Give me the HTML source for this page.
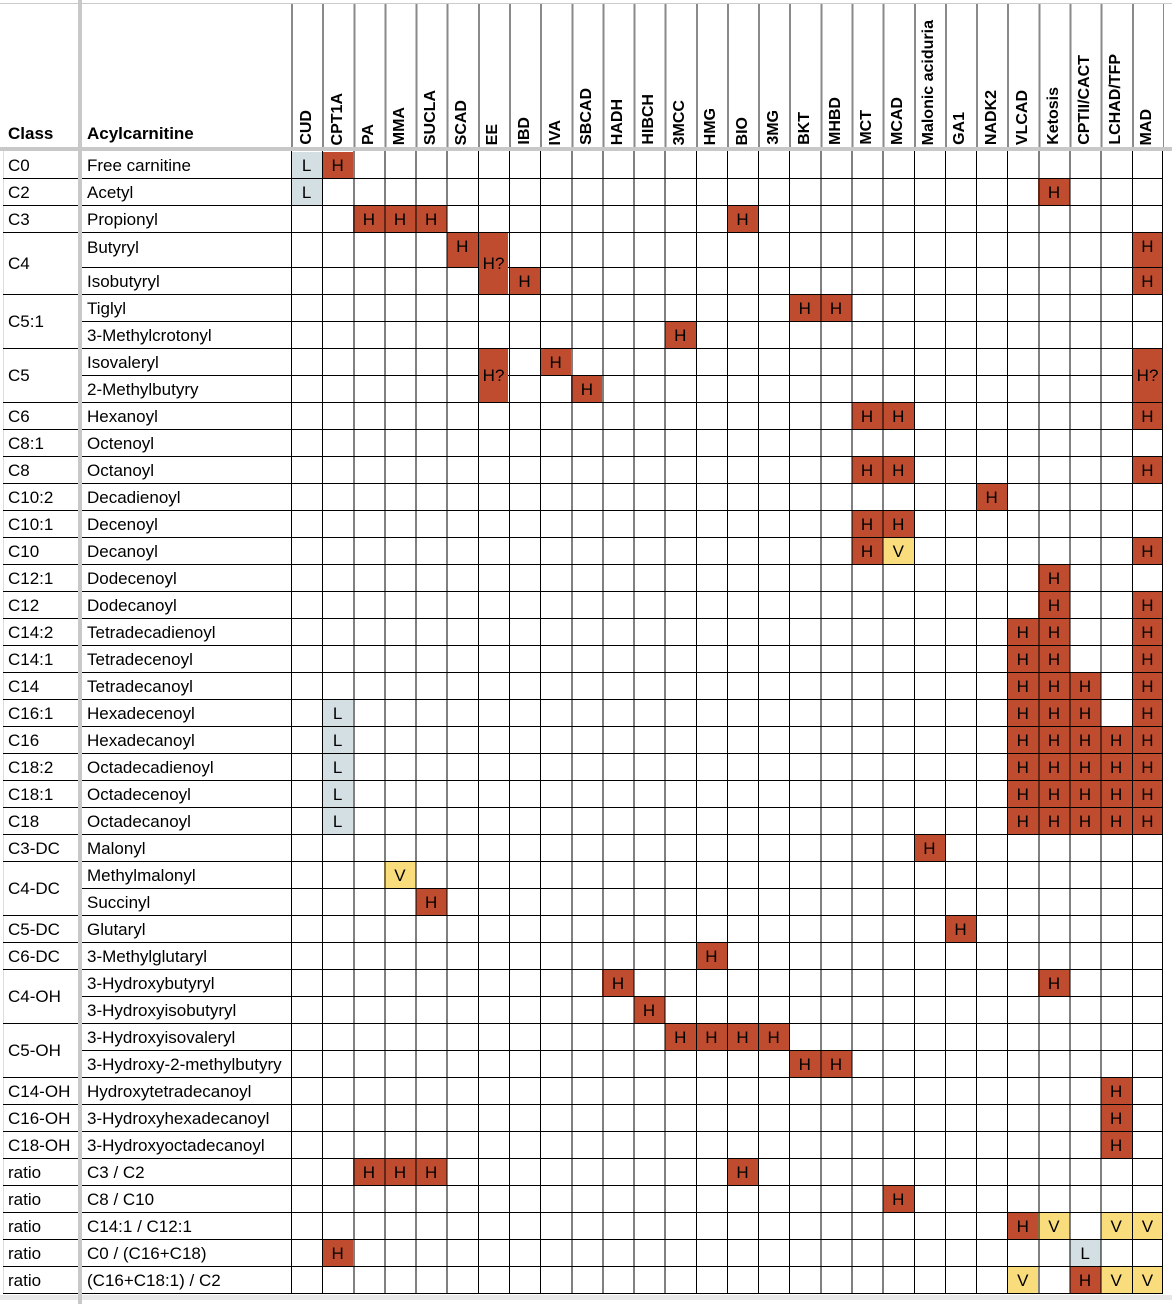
<!DOCTYPE html>
<html><head><meta charset="utf-8"><style>
body{margin:0;width:1172px;height:1304px;background:#fff;position:relative;overflow:hidden;font-family:"Liberation Sans",Arial,sans-serif;font-size:17px;color:#000}
div{box-sizing:border-box}
.a{position:absolute}
.r{position:absolute;left:82px;width:1081px;height:27px;border-bottom:1px solid #000;padding-left:5px;line-height:28px;z-index:2;white-space:nowrap}
.k{position:absolute;left:3px;width:75px;border-bottom:1px solid #000;padding-left:5px;display:flex;align-items:center;padding-top:1px;z-index:2}
.c{position:absolute;width:31.14px;height:27px;text-align:center;line-height:27px;z-index:1}
.h{background:#c04c30}.l{background:#d4dfe3}.v{background:#f9dc7c}
.m{z-index:4;width:29.5px;margin-left:1px;height:53px;line-height:53px}
.hd{position:absolute;top:4px;width:31.14px;height:141px;display:flex;align-items:flex-end;justify-content:center}
.hd span{writing-mode:vertical-rl;transform:rotate(180deg);font-weight:bold;font-size:16px;white-space:nowrap}
</style></head><body>
<div class="a" style="left:0;top:3px;width:1172px;height:1px;background:#ccc"></div>
<div class="a" style="left:8px;top:124px;font-weight:bold">Class</div>
<div class="a" style="left:87px;top:124px;font-weight:bold">Acylcarnitine</div>
<div class="a" style="left:291px;top:4px;width:873px;height:143px;background:repeating-linear-gradient(to right,#8a8a8a 0 2px,transparent 2px 31.14px)"></div>
<div class="hd" style="left:291px"><span>CUD</span></div>
<div class="hd" style="left:322.1px"><span>CPT1A</span></div>
<div class="hd" style="left:353.3px"><span>PA</span></div>
<div class="hd" style="left:384.4px"><span>MMA</span></div>
<div class="hd" style="left:415.6px"><span>SUCLA</span></div>
<div class="hd" style="left:446.7px"><span>SCAD</span></div>
<div class="hd" style="left:477.8px"><span>EE</span></div>
<div class="hd" style="left:509px"><span>IBD</span></div>
<div class="hd" style="left:540.1px"><span>IVA</span></div>
<div class="hd" style="left:571.3px"><span>SBCAD</span></div>
<div class="hd" style="left:602.4px"><span>HADH</span></div>
<div class="hd" style="left:633.5px"><span>HIBCH</span></div>
<div class="hd" style="left:664.7px"><span>3MCC</span></div>
<div class="hd" style="left:695.8px"><span>HMG</span></div>
<div class="hd" style="left:727px"><span>BIO</span></div>
<div class="hd" style="left:758.1px"><span>3MG</span></div>
<div class="hd" style="left:789.2px"><span>BKT</span></div>
<div class="hd" style="left:820.4px"><span>MHBD</span></div>
<div class="hd" style="left:851.5px"><span>MCT</span></div>
<div class="hd" style="left:882.7px"><span>MCAD</span></div>
<div class="hd" style="left:913.8px"><span>Malonic aciduria</span></div>
<div class="hd" style="left:944.9px"><span>GA1</span></div>
<div class="hd" style="left:976.1px"><span>NADK2</span></div>
<div class="hd" style="left:1007.2px"><span>VLCAD</span></div>
<div class="hd" style="left:1038.4px"><span>Ketosis</span></div>
<div class="hd" style="left:1069.5px"><span>CPTII/CACT</span></div>
<div class="hd" style="left:1100.6px"><span>LCHAD/TFP</span></div>
<div class="hd" style="left:1131.8px"><span>MAD</span></div>
<div class="a" style="left:0;top:147px;width:1172px;height:4px;background:#c8c8c8;z-index:5"></div>
<div class="a" style="left:78px;top:0;width:4px;height:1304px;background:#c8c8c8;z-index:5"></div>
<div class="a" style="left:3px;top:151px;width:1px;height:1143px;background:#ddd"></div>
<div class="a" style="left:0;top:1295px;width:1172px;height:5px;background:#e8e8e8"></div>
<div class="a" style="left:291px;top:151px;width:872px;height:1143px;background:repeating-linear-gradient(to right,#000 0 1px,transparent 1px 31.14px);z-index:3"></div>
<div class="a" style="left:1162px;top:151px;width:1px;height:1143px;background:#000;z-index:3"></div>

<div class="k" style="top:152px;height:27px">C0</div>
<div class="k" style="top:179px;height:27px">C2</div>
<div class="k" style="top:206px;height:27px">C3</div>
<div class="k" style="top:233px;height:62px">C4</div>
<div class="k" style="top:295px;height:54px">C5:1</div>
<div class="k" style="top:349px;height:54px">C5</div>
<div class="k" style="top:403px;height:27px">C6</div>
<div class="k" style="top:430px;height:27px">C8:1</div>
<div class="k" style="top:457px;height:27px">C8</div>
<div class="k" style="top:484px;height:27px">C10:2</div>
<div class="k" style="top:511px;height:27px">C10:1</div>
<div class="k" style="top:538px;height:27px">C10</div>
<div class="k" style="top:565px;height:27px">C12:1</div>
<div class="k" style="top:592px;height:27px">C12</div>
<div class="k" style="top:619px;height:27px">C14:2</div>
<div class="k" style="top:646px;height:27px">C14:1</div>
<div class="k" style="top:673px;height:27px">C14</div>
<div class="k" style="top:700px;height:27px">C16:1</div>
<div class="k" style="top:727px;height:27px">C16</div>
<div class="k" style="top:754px;height:27px">C18:2</div>
<div class="k" style="top:781px;height:27px">C18:1</div>
<div class="k" style="top:808px;height:27px">C18</div>
<div class="k" style="top:835px;height:27px">C3-DC</div>
<div class="k" style="top:862px;height:54px">C4-DC</div>
<div class="k" style="top:916px;height:27px">C5-DC</div>
<div class="k" style="top:943px;height:27px">C6-DC</div>
<div class="k" style="top:970px;height:54px">C4-OH</div>
<div class="k" style="top:1024px;height:54px">C5-OH</div>
<div class="k" style="top:1078px;height:27px">C14-OH</div>
<div class="k" style="top:1105px;height:27px">C16-OH</div>
<div class="k" style="top:1132px;height:27px">C18-OH</div>
<div class="k" style="top:1159px;height:27px">ratio</div>
<div class="k" style="top:1186px;height:27px">ratio</div>
<div class="k" style="top:1213px;height:27px">ratio</div>
<div class="k" style="top:1240px;height:27px">ratio</div>
<div class="k" style="top:1267px;height:27px">ratio</div>

<div class="r" style="top:152px">Free carnitine</div>
<div class="r" style="top:179px">Acetyl</div>
<div class="r" style="top:206px">Propionyl</div>
<div class="r" style="top:233px;height:35px;line-height:29px">Butyryl</div>
<div class="r" style="top:268px">Isobutyryl</div>
<div class="r" style="top:295px">Tiglyl</div>
<div class="r" style="top:322px">3-Methylcrotonyl</div>
<div class="r" style="top:349px">Isovaleryl</div>
<div class="r" style="top:376px">2-Methylbutyry</div>
<div class="r" style="top:403px">Hexanoyl</div>
<div class="r" style="top:430px">Octenoyl</div>
<div class="r" style="top:457px">Octanoyl</div>
<div class="r" style="top:484px">Decadienoyl</div>
<div class="r" style="top:511px">Decenoyl</div>
<div class="r" style="top:538px">Decanoyl</div>
<div class="r" style="top:565px">Dodecenoyl</div>
<div class="r" style="top:592px">Dodecanoyl</div>
<div class="r" style="top:619px">Tetradecadienoyl</div>
<div class="r" style="top:646px">Tetradecenoyl</div>
<div class="r" style="top:673px">Tetradecanoyl</div>
<div class="r" style="top:700px">Hexadecenoyl</div>
<div class="r" style="top:727px">Hexadecanoyl</div>
<div class="r" style="top:754px">Octadecadienoyl</div>
<div class="r" style="top:781px">Octadecenoyl</div>
<div class="r" style="top:808px">Octadecanoyl</div>
<div class="r" style="top:835px">Malonyl</div>
<div class="r" style="top:862px">Methylmalonyl</div>
<div class="r" style="top:889px">Succinyl</div>
<div class="r" style="top:916px">Glutaryl</div>
<div class="r" style="top:943px">3-Methylglutaryl</div>
<div class="r" style="top:970px">3-Hydroxybutyryl</div>
<div class="r" style="top:997px">3-Hydroxyisobutyryl</div>
<div class="r" style="top:1024px">3-Hydroxyisovaleryl</div>
<div class="r" style="top:1051px">3-Hydroxy-2-methylbutyry</div>
<div class="r" style="top:1078px">Hydroxytetradecanoyl</div>
<div class="r" style="top:1105px">3-Hydroxyhexadecanoyl</div>
<div class="r" style="top:1132px">3-Hydroxyoctadecanoyl</div>
<div class="r" style="top:1159px">C3 / C2</div>
<div class="r" style="top:1186px">C8 / C10</div>
<div class="r" style="top:1213px">C14:1 / C12:1</div>
<div class="r" style="top:1240px">C0 / (C16+C18)</div>
<div class="r" style="top:1267px">(C16+C18:1) / C2</div>

<div class="c l" style="left:291px;top:152px">L</div>
<div class="c h" style="left:322.1px;top:152px">H</div>
<div class="c l" style="left:291px;top:179px">L</div>
<div class="c h" style="left:1038.4px;top:179px">H</div>
<div class="c h" style="left:353.3px;top:206px">H</div>
<div class="c h" style="left:384.4px;top:206px">H</div>
<div class="c h" style="left:415.6px;top:206px">H</div>
<div class="c h" style="left:727px;top:206px">H</div>
<div class="c h" style="left:446.7px;top:233px;height:35px">H</div>
<div class="c h m" style="left:477.8px;top:233px;height:61px;line-height:61px">H?</div>
<div class="c h" style="left:1131.8px;top:233px;height:35px">H</div>
<div class="c h" style="left:509px;top:268px">H</div>
<div class="c h" style="left:1131.8px;top:268px">H</div>
<div class="c h" style="left:789.2px;top:295px">H</div>
<div class="c h" style="left:820.4px;top:295px">H</div>
<div class="c h" style="left:664.7px;top:322px">H</div>
<div class="c h m" style="left:477.8px;top:349px">H?</div>
<div class="c h" style="left:540.1px;top:349px">H</div>
<div class="c h m" style="left:1131.8px;top:349px">H?</div>
<div class="c h" style="left:571.3px;top:376px">H</div>
<div class="c h" style="left:851.5px;top:403px">H</div>
<div class="c h" style="left:882.7px;top:403px">H</div>
<div class="c h" style="left:1131.8px;top:403px">H</div>
<div class="c h" style="left:851.5px;top:457px">H</div>
<div class="c h" style="left:882.7px;top:457px">H</div>
<div class="c h" style="left:1131.8px;top:457px">H</div>
<div class="c h" style="left:976.1px;top:484px">H</div>
<div class="c h" style="left:851.5px;top:511px">H</div>
<div class="c h" style="left:882.7px;top:511px">H</div>
<div class="c h" style="left:851.5px;top:538px">H</div>
<div class="c v" style="left:882.7px;top:538px">V</div>
<div class="c h" style="left:1131.8px;top:538px">H</div>
<div class="c h" style="left:1038.4px;top:565px">H</div>
<div class="c h" style="left:1038.4px;top:592px">H</div>
<div class="c h" style="left:1131.8px;top:592px">H</div>
<div class="c h" style="left:1007.2px;top:619px">H</div>
<div class="c h" style="left:1038.4px;top:619px">H</div>
<div class="c h" style="left:1131.8px;top:619px">H</div>
<div class="c h" style="left:1007.2px;top:646px">H</div>
<div class="c h" style="left:1038.4px;top:646px">H</div>
<div class="c h" style="left:1131.8px;top:646px">H</div>
<div class="c h" style="left:1007.2px;top:673px">H</div>
<div class="c h" style="left:1038.4px;top:673px">H</div>
<div class="c h" style="left:1069.5px;top:673px">H</div>
<div class="c h" style="left:1131.8px;top:673px">H</div>
<div class="c l" style="left:322.1px;top:700px">L</div>
<div class="c h" style="left:1007.2px;top:700px">H</div>
<div class="c h" style="left:1038.4px;top:700px">H</div>
<div class="c h" style="left:1069.5px;top:700px">H</div>
<div class="c h" style="left:1131.8px;top:700px">H</div>
<div class="c l" style="left:322.1px;top:727px">L</div>
<div class="c h" style="left:1007.2px;top:727px">H</div>
<div class="c h" style="left:1038.4px;top:727px">H</div>
<div class="c h" style="left:1069.5px;top:727px">H</div>
<div class="c h" style="left:1100.6px;top:727px">H</div>
<div class="c h" style="left:1131.8px;top:727px">H</div>
<div class="c l" style="left:322.1px;top:754px">L</div>
<div class="c h" style="left:1007.2px;top:754px">H</div>
<div class="c h" style="left:1038.4px;top:754px">H</div>
<div class="c h" style="left:1069.5px;top:754px">H</div>
<div class="c h" style="left:1100.6px;top:754px">H</div>
<div class="c h" style="left:1131.8px;top:754px">H</div>
<div class="c l" style="left:322.1px;top:781px">L</div>
<div class="c h" style="left:1007.2px;top:781px">H</div>
<div class="c h" style="left:1038.4px;top:781px">H</div>
<div class="c h" style="left:1069.5px;top:781px">H</div>
<div class="c h" style="left:1100.6px;top:781px">H</div>
<div class="c h" style="left:1131.8px;top:781px">H</div>
<div class="c l" style="left:322.1px;top:808px">L</div>
<div class="c h" style="left:1007.2px;top:808px">H</div>
<div class="c h" style="left:1038.4px;top:808px">H</div>
<div class="c h" style="left:1069.5px;top:808px">H</div>
<div class="c h" style="left:1100.6px;top:808px">H</div>
<div class="c h" style="left:1131.8px;top:808px">H</div>
<div class="c h" style="left:913.8px;top:835px">H</div>
<div class="c v" style="left:384.4px;top:862px">V</div>
<div class="c h" style="left:415.6px;top:889px">H</div>
<div class="c h" style="left:944.9px;top:916px">H</div>
<div class="c h" style="left:695.8px;top:943px">H</div>
<div class="c h" style="left:602.4px;top:970px">H</div>
<div class="c h" style="left:1038.4px;top:970px">H</div>
<div class="c h" style="left:633.5px;top:997px">H</div>
<div class="c h" style="left:664.7px;top:1024px">H</div>
<div class="c h" style="left:695.8px;top:1024px">H</div>
<div class="c h" style="left:727px;top:1024px">H</div>
<div class="c h" style="left:758.1px;top:1024px">H</div>
<div class="c h" style="left:789.2px;top:1051px">H</div>
<div class="c h" style="left:820.4px;top:1051px">H</div>
<div class="c h" style="left:1100.6px;top:1078px">H</div>
<div class="c h" style="left:1100.6px;top:1105px">H</div>
<div class="c h" style="left:1100.6px;top:1132px">H</div>
<div class="c h" style="left:353.3px;top:1159px">H</div>
<div class="c h" style="left:384.4px;top:1159px">H</div>
<div class="c h" style="left:415.6px;top:1159px">H</div>
<div class="c h" style="left:727px;top:1159px">H</div>
<div class="c h" style="left:882.7px;top:1186px">H</div>
<div class="c h" style="left:1007.2px;top:1213px">H</div>
<div class="c v" style="left:1038.4px;top:1213px">V</div>
<div class="c v" style="left:1100.6px;top:1213px">V</div>
<div class="c v" style="left:1131.8px;top:1213px">V</div>
<div class="c h" style="left:322.1px;top:1240px">H</div>
<div class="c l" style="left:1069.5px;top:1240px">L</div>
<div class="c v" style="left:1007.2px;top:1267px">V</div>
<div class="c h" style="left:1069.5px;top:1267px">H</div>
<div class="c v" style="left:1100.6px;top:1267px">V</div>
<div class="c v" style="left:1131.8px;top:1267px">V</div>
</body></html>
